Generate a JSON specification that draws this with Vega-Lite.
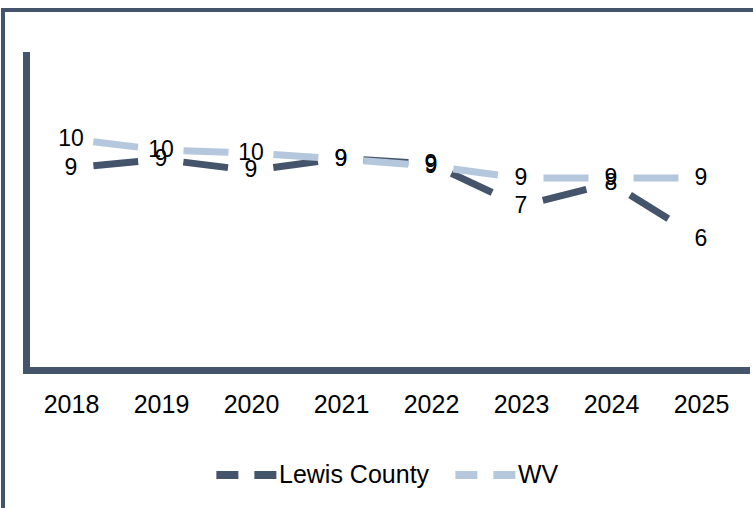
{
  "$schema": "https://vega.github.io/schema/vega-lite/v6.json",
  "width": 760,
  "height": 510,
  "autosize": {"type": "none"},
  "padding": {"left": 3, "top": 10, "right": -10, "bottom": -12},
  "background": "white",
  "config": {
    "view": {"stroke": "#44546a", "strokeWidth": 4},
    "font": "Liberation Sans"
  },
  "data": {
    "values": [
      {"year": 2018, "series": "Lewis County", "value": 8.98},
      {"year": 2019, "series": "Lewis County", "value": 9.36},
      {"year": 2020, "series": "Lewis County", "value": 8.87},
      {"year": 2021, "series": "Lewis County", "value": 9.4},
      {"year": 2022, "series": "Lewis County", "value": 9.16},
      {"year": 2023, "series": "Lewis County", "value": 7.29},
      {"year": 2024, "series": "Lewis County", "value": 8.31},
      {"year": 2025, "series": "Lewis County", "value": 5.82},
      {"year": 2018, "series": "WV", "value": 10.27},
      {"year": 2019, "series": "WV", "value": 9.78},
      {"year": 2020, "series": "WV", "value": 9.64},
      {"year": 2021, "series": "WV", "value": 9.38},
      {"year": 2022, "series": "WV", "value": 9.07},
      {"year": 2023, "series": "WV", "value": 8.53},
      {"year": 2024, "series": "WV", "value": 8.53},
      {"year": 2025, "series": "WV", "value": 8.53}
    ]
  },
  "encoding": {
    "x": {
      "field": "year",
      "type": "quantitative",
      "scale": {"domain": [2017.5, 2025.5], "range": [23, 743], "nice": false, "zero": false},
      "axis": {
        "values": [2018, 2019, 2020, 2021, 2022, 2023, 2024, 2025],
        "format": "d",
        "title": null,
        "ticks": false,
        "grid": false,
        "domainColor": "#44546a",
        "domainWidth": 7,
        "domainCap": "square",
        "labelFontSize": 25,
        "labelColor": "#000000",
        "labelPadding": 22,
        "labelFlush": false,
        "labelOverlap": false,
        "offset": -150
      }
    },
    "y": {
      "field": "value",
      "type": "quantitative",
      "scale": {"domain": [0, 14], "range": [360, 45], "nice": false, "zero": false},
      "axis": {
        "title": null,
        "labels": false,
        "ticks": false,
        "grid": false,
        "domainColor": "#44546a",
        "domainWidth": 7,
        "domainCap": "square",
        "offset": -23
      }
    },
    "color": {
      "field": "series",
      "type": "nominal",
      "scale": {"domain": ["Lewis County", "WV"], "range": ["#44546a", "#b4c7dc"]},
      "legend": {
        "orient": "none",
        "legendX": 209,
        "legendY": 429,
        "direction": "horizontal",
        "title": null,
        "symbolType": "stroke",
        "symbolStrokeWidth": 8,
        "symbolSize": 4000,
        "symbolDash": [22, 16],
        "labelFontSize": 25,
        "labelColor": "#000000",
        "labelOffset": -5,
        "columnPadding": 9
      }
    }
  },
  "layer": [
    {
      "transform": [
        {
          "window": [
            {"op": "lead", "field": "year", "as": "year2"},
            {"op": "lead", "field": "value", "as": "value2"}
          ],
          "groupby": ["series"],
          "sort": [{"field": "year"}]
        },
        {"filter": "datum.year2 != null"}
      ],
      "mark": {"type": "rule", "strokeWidth": 7, "strokeDash": [45, 45], "strokeDashOffset": 67.5},
      "encoding": {
        "x2": {"field": "year2"},
        "y2": {"field": "value2"}
      }
    },
    {
      "mark": {"type": "text", "fontSize": 23, "align": "center", "baseline": "middle"},
      "encoding": {
        "text": {"field": "value", "type": "quantitative", "format": ".0f"},
        "color": {"value": "#000000"}
      }
    }
  ]
}
